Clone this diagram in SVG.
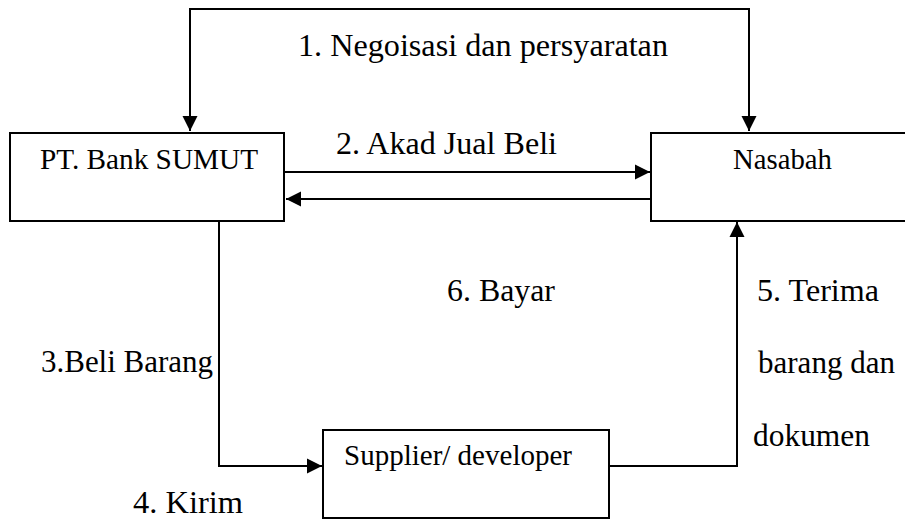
<svg xmlns="http://www.w3.org/2000/svg" width="905" height="526" viewBox="0 0 905 526">
<style>
.box{fill:#fff;stroke:#000;stroke-width:2}
.con{fill:none;stroke:#000;stroke-width:2}
text{font-family:'Times New Roman','Liberation Serif','DejaVu Serif',serif;fill:#000}
.lbl{font-size:31px}
.nl{font-size:29px}
</style>
<defs>
<marker id="ah" markerUnits="userSpaceOnUse" markerWidth="16" markerHeight="16" viewBox="0 0 16 16" refX="15" refY="8" orient="auto">
<path d="M0,0.5 L15,8 L0,15.5 Z" fill="#000"/>
</marker>
</defs>
<g id="connectors">
<polyline class="con" points="190,131 190,9 749,9 749,131" marker-end="url(#ah)"/>
<line class="con" x1="190" y1="9" x2="190" y2="131" marker-end="url(#ah)"/>
<line class="con" x1="285" y1="172" x2="650" y2="172" marker-end="url(#ah)"/>
<line class="con" x1="651" y1="199" x2="286" y2="199" marker-end="url(#ah)"/>
<polyline class="con" points="219,221 219,466 322,466" marker-end="url(#ah)"/>
<polyline class="con" points="609,466 737,466 737,222" marker-end="url(#ah)"/>
<text class="lbl" x="298" y="56" textLength="370" lengthAdjust="spacingAndGlyphs">1. Negoisasi dan persyaratan</text>
<text class="lbl" x="336" y="154" textLength="221" lengthAdjust="spacingAndGlyphs">2. Akad Jual Beli</text>
<text class="lbl" x="41" y="372" textLength="172" lengthAdjust="spacingAndGlyphs">3.Beli Barang</text>
<text class="lbl" x="133" y="513" textLength="110" lengthAdjust="spacingAndGlyphs">4. Kirim</text>
<text class="lbl" x="757" y="301" textLength="122" lengthAdjust="spacingAndGlyphs">5. Terima</text>
<text class="lbl" x="758" y="373" textLength="137" lengthAdjust="spacingAndGlyphs">barang dan</text>
<text class="lbl" x="753" y="446" textLength="117" lengthAdjust="spacingAndGlyphs">dokumen</text>
<text class="lbl" x="447" y="301" textLength="108" lengthAdjust="spacingAndGlyphs">6. Bayar</text>
</g>
<g id="bank">
<rect class="box" x="10" y="133" width="274" height="88"/>
<text class="nl" x="40" y="169" textLength="218" lengthAdjust="spacingAndGlyphs">PT. Bank SUMUT</text>
</g>
<g id="nasabah">
<rect class="box" x="651" y="133" width="260" height="88"/>
<text class="nl" x="733" y="169" textLength="99" lengthAdjust="spacingAndGlyphs">Nasabah</text>
</g>
<g id="supplier">
<rect class="box" x="323" y="430" width="286" height="88"/>
<text class="nl" x="344" y="465" textLength="228" lengthAdjust="spacingAndGlyphs">Supplier/ developer</text>
</g>
</svg>
